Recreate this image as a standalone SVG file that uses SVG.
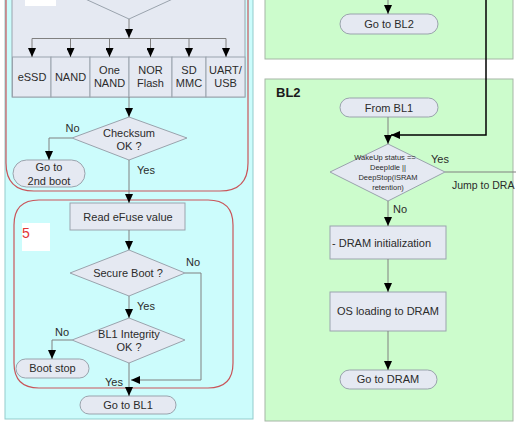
<svg xmlns="http://www.w3.org/2000/svg" width="516" height="425" viewBox="0 0 516 425">
<defs>
<marker id="ah" viewBox="0 0 9 8" refX="9" refY="4" markerWidth="9" markerHeight="8" markerUnits="userSpaceOnUse" orient="auto">
<path d="M0,0 L9,4 L0,8 z" fill="#000"/>
</marker>
</defs>
<style>
text{font-family:"Liberation Sans",Arial,sans-serif;font-size:11px;fill:#2b2b2b;text-anchor:middle}
.sm{font-size:7.5px}
.st{text-anchor:start}
.box{fill:#e5e9f2;stroke:#9aa3ad;stroke-width:1}
.grp{fill:none;stroke:#c9555a;stroke-width:1.2}
.c{fill:none;stroke:#808080;stroke-width:1}
.ca{fill:none;stroke:#808080;stroke-width:1;marker-end:url(#ah)}
.green{fill:#ccfccc;stroke:#a6b6a6;stroke-width:1}
</style>
<rect width="516" height="425" fill="#ffffff"/>
<g id="panel-left">
<rect x="5" y="-5" width="248" height="424" fill="#ccfcfc" stroke="#93cccc" stroke-width="1"/>
</g>
<g id="group1">
<path class="grp" d="M6,-5 L6,163 Q6,191 34,191 L220,191 Q248,191 248,163 L248,-5"/>
<rect class="box" x="12" y="-5" width="233" height="102"/>
<rect x="25" y="-2" width="31" height="8" fill="#ffffff"/>
</g>
<g id="top-decision">
<polygon class="box" points="70,-8 129,19 188,-8 129,-40"/>
</g>
<g id="media">
<rect class="box" x="12.5" y="57" width="38.5" height="40"/>
<rect class="box" x="51" y="57" width="39" height="40"/>
<rect class="box" x="90" y="57" width="39" height="40"/>
<rect class="box" x="129" y="57" width="43" height="40"/>
<rect class="box" x="172" y="57" width="34" height="40"/>
<rect class="box" x="206" y="57" width="39" height="40"/>
<text x="32" y="81">eSSD</text>
<text x="70.5" y="81">NAND</text>
<text x="109.5" y="74">One</text>
<text x="109.5" y="87">NAND</text>
<text x="150.5" y="74">NOR</text>
<text x="150.5" y="87">Flash</text>
<text x="189" y="74">SD</text>
<text x="189" y="87">MMC</text>
<text x="225.5" y="74">UART/</text>
<text x="225.5" y="87">USB</text>
</g>
<g id="checksum">
<polygon class="box" points="72,138 129,117 187,138 129,160"/>
<text x="129" y="137">Checksum</text>
<text x="129" y="150">OK ?</text>
</g>
<g id="goto-2nd">
<rect class="box" x="13" y="160" width="72" height="27" rx="13.5"/>
<text x="49" y="171">Go to</text>
<text x="49" y="185">2nd boot</text>
</g>
<g id="group5">
<path class="grp" d="M39,200 L208,200 Q233,200 233,225 L233,363 Q233,388 208,388 L39,388 Q14,388 14,363 L14,225 Q14,200 39,200 Z"/>
<rect x="22" y="223" width="28" height="28" fill="#ffffff"/>
<text class="st" x="22" y="238" style="font-size:14px;fill:#e03535">5</text>
</g>
<g id="read-efuse">
<rect class="box" x="70" y="203" width="115" height="27"/>
<text x="128" y="221">Read eFuse value</text>
</g>
<g id="secure-boot">
<polygon class="box" points="70,273 129,250 185,273 129,296"/>
<text x="128" y="277">Secure Boot ?</text>
</g>
<g id="bl1-integrity">
<polygon class="box" points="72,340 129,318 185,340 129,363"/>
<text x="129" y="338">BL1 Integrity</text>
<text x="129" y="351">OK ?</text>
</g>
<g id="boot-stop">
<rect class="box" x="16" y="359" width="73" height="19" rx="9.5"/>
<text x="52.5" y="372">Boot stop</text>
</g>
<g id="goto-bl1">
<rect class="box" x="80" y="396" width="96" height="18" rx="9"/>
<text x="128" y="409">Go to BL1</text>
</g>
<g id="panel-bl1-right">
<rect class="green" x="265" y="-5" width="248" height="64"/>
</g>
<g id="goto-bl2">
<rect class="box" x="340" y="14" width="98" height="20" rx="10"/>
<text x="389" y="28">Go to BL2</text>
</g>
<g id="panel-bl2">
<rect class="green" x="265" y="79" width="248" height="342"/>
<text class="st" x="276" y="97" style="font-size:13px;font-weight:bold;fill:#1a1a1a">BL2</text>
</g>
<g id="from-bl1">
<rect class="box" x="340" y="98" width="98" height="19" rx="9.5"/>
<text x="389" y="112">From BL1</text>
</g>
<g id="wakeup">
<polygon class="box" points="330,172 388,144 445,172 388,201"/>
<text class="sm" x="385" y="159.5">WakeUp status ==</text>
<text class="sm" x="388" y="169.5">DeepIdle ||</text>
<text class="sm" x="388" y="179.5">DeepStop(iSRAM</text>
<text class="sm" x="388" y="189.5">retention)</text>
</g>
<g id="dram-init">
<rect class="box" x="330" y="226" width="116" height="33"/>
<text class="st" x="332" y="247">- DRAM initialization</text>
</g>
<g id="os-loading">
<rect class="box" x="330" y="292" width="116" height="39"/>
<text x="388" y="315">OS loading to DRAM</text>
</g>
<g id="goto-dram">
<rect class="box" x="340" y="370" width="97" height="19" rx="9.5"/>
<text x="388" y="383">Go to DRAM</text>
</g>
<g id="connectors">
<path class="ca" d="M129,19 L129,38"/>
<path class="c" d="M32,38.5 L226,38.5"/>
<path class="ca" d="M32,38.5 L32,57"/>
<path class="ca" d="M70.5,38.5 L70.5,57"/>
<path class="ca" d="M109.5,38.5 L109.5,57"/>
<path class="ca" d="M150.5,38.5 L150.5,57"/>
<path class="ca" d="M189,38.5 L189,57"/>
<path class="ca" d="M226,38.5 L226,57"/>
<path class="ca" d="M129,97 L129,117"/>
<path class="ca" d="M72,138 L49,138 L49,160"/>
<path class="ca" d="M129,160 L129,203"/>
<path class="ca" d="M129,230 L129,250"/>
<path class="ca" d="M185,273 L201,273 L201,380 L131,380"/>
<path class="ca" d="M129,296 L129,318"/>
<path class="ca" d="M72,340 L52,340 L52,359"/>
<path class="ca" d="M129,363 L129,396"/>
<path class="ca" d="M388,-2 L388,14"/>
<path d="M486,-2 L486,135 L391,135" fill="none" stroke="#000" stroke-width="1.5" marker-end="url(#ah)"/>
<path class="ca" d="M388,117 L388,144"/>
<path class="c" d="M445,172 L518,172"/>
<path class="ca" d="M388,201 L388,226"/>
<path class="ca" d="M388,259 L388,292"/>
<path class="ca" d="M388,331 L388,370"/>
<text x="72.5" y="132">No</text>
<text x="146" y="174">Yes</text>
<text x="193" y="266">No</text>
<text x="146" y="310">Yes</text>
<text x="62" y="336">No</text>
<text x="114" y="386">Yes</text>
<text x="440" y="163">Yes</text>
<text class="st" x="452" y="189" style="font-size:10.5px">Jump to DRA</text>
<text x="400" y="213">No</text>
</g>
</svg>
